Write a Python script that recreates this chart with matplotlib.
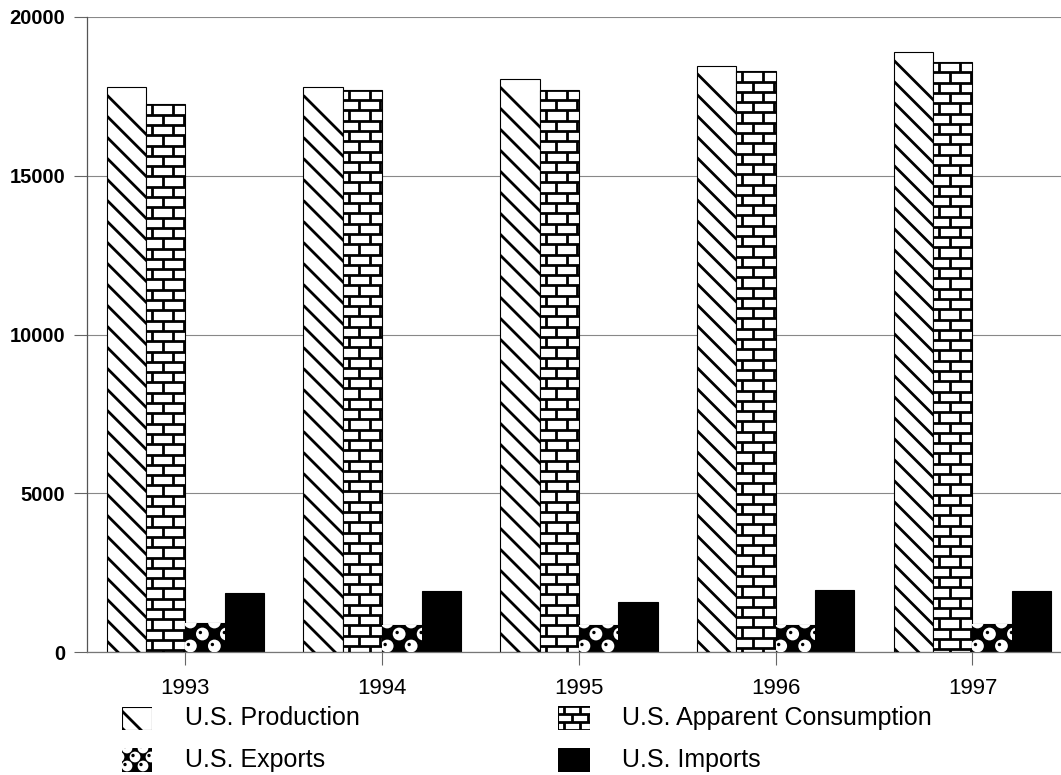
import numpy as np
import matplotlib
matplotlib.use('Agg')
import matplotlib.pyplot as plt
from matplotlib.collections import LineCollection

plt.rcParams['font.family'] = ['Liberation Sans', 'DejaVu Sans']

# --- data ---
years = ['1993', '1994', '1995', '1996', '1997']
production = [17800, 17780, 18040, 18470, 18890]
consumption = [17250, 17710, 17710, 18290, 18580]
exports = [920, 850, 850, 860, 880]
imports = [1850, 1930, 1590, 1950, 1910]
labels = ['U.S. Production', 'U.S. Apparent Consumption', 'U.S. Exports', 'U.S. Imports']

W, H = 1061, 775
fig = plt.figure(figsize=(W / 100, H / 100), dpi=100)
fig.patch.set_facecolor('white')
ax = fig.add_axes([87 / W, 1 - 652 / H, (W - 87) / W, 635 / H])
ax.set_xlim(-0.5, 4.45)
ax.set_ylim(0, 20000)


def px_scale(a):
    # data units per pixel for the given axes
    bb = a.get_window_extent()
    x0, x1 = a.get_xlim()
    y0, y1 = a.get_ylim()
    return (x1 - x0) / bb.width, (y1 - y0) / bb.height


def diagonals(a, bar, gap=21, lw=2.0, start=8):
    # "\" lines, 45 degrees in pixel space, spaced `gap` px vertically
    dx, dy = px_scale(a)
    x0, y0, w, h = bar.get_x(), bar.get_y(), bar.get_width(), bar.get_height()
    wpx, hpx = w / dx, h / dy
    segs = []
    c = start
    while c < hpx + wpx + gap:
        # line through (0, hpx - c) going down-right
        segs.append([(x0, y0 + (hpx - c) * dy), (x0 + (wpx + gap) * dx, y0 + (hpx - c - wpx - gap) * dy)])
        c += gap
    lc = LineCollection(segs, colors='black', linewidths=lw, zorder=3)
    a.add_collection(lc, autolim=False)
    lc.set_clip_path(bar)


def bricks(a, bar, row=10.3, brick=21, lw=2.0):
    dx, dy = px_scale(a)
    x0, y0, w, h = bar.get_x(), bar.get_y(), bar.get_width(), bar.get_height()
    segs = []
    nrow = int(h / (row * dy)) + 2
    ncol = int(w / (brick * dx)) + 3
    for i in range(nrow):
        yb = y0 + h - i * row * dy
        segs.append([(x0, yb), (x0 + w, yb)])
        off = (i % 2) * brick / 2 + 6
        for k in range(-1, ncol):
            xv = x0 + (off + k * brick) * dx
            segs.append([(xv, yb), (xv, yb - row * dy)])
    lc = LineCollection(segs, colors='black', linewidths=lw, zorder=3)
    a.add_collection(lc, autolim=False)
    lc.set_clip_path(bar)


def bubbles(a, bar, step=24, row=12, size=85):
    dx, dy = px_scale(a)
    x0, y0, w, h = bar.get_x(), bar.get_y(), bar.get_width(), bar.get_height()
    xs, ys = [], []
    for i in range(int(h / (row * dy)) + 2):
        off = (i % 2) * step / 2
        for k in range(-1, int(w / (step * dx)) + 2):
            xs.append(x0 + (off + k * step + 5) * dx)
            ys.append(y0 + (i * row + 6) * dy)
    xs, ys = np.array(xs), np.array(ys)
    sc = a.scatter(xs, ys, s=size, c='white', edgecolors='none', zorder=3)
    sc.set_clip_path(bar)
    dot = a.scatter(xs - 2.0 * dx, ys + 1.5 * dy, s=6, c='black', edgecolors='none', zorder=4)
    dot.set_clip_path(bar)


# --- bars ---
x = np.arange(len(years))
bw = 0.2
ax.set_axisbelow(True)
prod_bars = ax.bar(x - 1.5 * bw, production, bw, facecolor='white', edgecolor='black',
                   linewidth=0.8, zorder=2)
cons_bars = ax.bar(x - 0.5 * bw, consumption, bw, facecolor='white', edgecolor='black',
                   linewidth=0.8, zorder=2)
exp_bars = ax.bar(x + 0.5 * bw, exports, bw, facecolor='black', edgecolor='black',
                  linewidth=0.8, zorder=2)
ax.bar(x + 1.5 * bw, imports, bw, facecolor='black', edgecolor='black',
       linewidth=0.8, zorder=2)
for b in prod_bars:
    diagonals(ax, b)
for b in cons_bars:
    bricks(ax, b)
for b in exp_bars:
    bubbles(ax, b)

# --- axes styling ---
ax.set_yticks([0, 5000, 10000, 15000, 20000])
ax.set_xticks(x)
ax.set_xticklabels(years)
ax.yaxis.grid(True, color='#888888', linewidth=0.8)
for s in ['top', 'right']:
    ax.spines[s].set_visible(False)
ax.spines['left'].set_color('#555555')
ax.spines['bottom'].set_color('#777777')
ax.spines['left'].set_linewidth(0.9)
ax.spines['bottom'].set_linewidth(0.9)
ax.tick_params(axis='y', length=9.5, width=0.8, color='#666666', pad=6, labelsize=14.5)
ax.tick_params(axis='x', length=9.5, width=0.8, color='#666666', pad=9, labelsize=16)
for t in ax.get_yticklabels():
    t.set_fontweight('bold')

# --- legend (drawn by hand so the swatches carry the same textures) ---
swatches = [(122, 707, 30, 23), (558, 706, 32, 24), (122, 748, 30, 24), (558, 748, 32, 24)]
text_pos = [(185, 718), (622, 718), (185, 760), (622, 760)]
for i, ((sx, sy, sw, sh), (tx, ty)) in enumerate(zip(swatches, text_pos)):
    la = fig.add_axes([sx / W, 1 - (sy + sh) / H, sw / W, sh / H])
    la.set_xlim(0, 1)
    la.set_ylim(0, 1)
    la.axis('off')
    if i == 0:
        b = la.bar([0.5], [1], 1, facecolor='white', edgecolor='black', linewidth=0.8)[0]
        diagonals(la, b, gap=17, start=4)
    elif i == 1:
        b = la.bar([0.5], [1], 1, facecolor='white', edgecolor='black', linewidth=0.8)[0]
        bricks(la, b, row=8, brick=16)
    elif i == 2:
        b = la.bar([0.5], [1], 1, facecolor='black', edgecolor='black', linewidth=0.8)[0]
        bubbles(la, b, step=16, row=9, size=60)
    else:
        la.bar([0.5], [1], 1, facecolor='black', edgecolor='black', linewidth=0.8)
    fig.text(tx / W, 1 - ty / H, labels[i], fontsize=18, ha='left', va='center')

fig.savefig('out.png', dpi=100, facecolor='white')
